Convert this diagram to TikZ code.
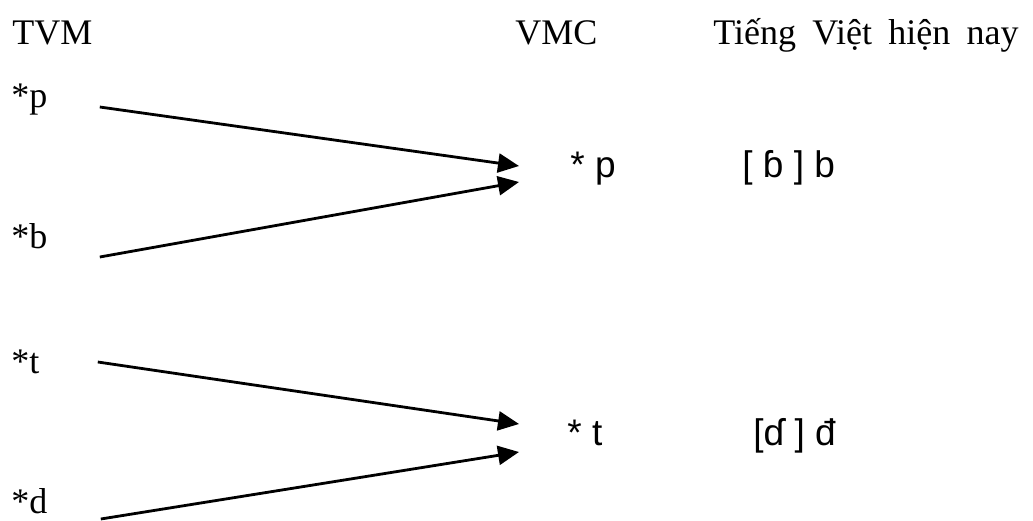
\documentclass[tikz,border=0pt]{standalone}
\usepackage{fontspec}
\setmainfont{Liberation Serif}
\newfontfamily\ipafont{Liberation Sans}
\tikzset{
  old/.style={anchor=base west, inner sep=0pt, font=\fontsize{18}{20}\selectfont},
  new/.style={anchor=base west, inner sep=0pt, font=\ipafont\fontsize{18.5}{21}\selectfont},
  arr/.style={line width=1.4pt, -{Triangle[length=10.5pt,width=9.5pt]}}
}
\usetikzlibrary{arrows.meta}
\begin{document}
\begin{tikzpicture}[x=0.5pt, y=-0.5pt]
  \useasboundingbox (0,0) rectangle (1033,520);
  \node[old] (hTVM) at (12,44) {TVM};
  \node[old] (hVMC) at (515,44) {VMC};
  \node[old] (hNow) at (713,44) {\spaceskip=0.45em Tiếng Việt hiện nay};
  \node[old] (pOld) at (11,107) {*p};
  \node[old] (bOld) at (11,248) {*b};
  \node[old] (tOld) at (11,373) {*t};
  \node[old] (dOld) at (11,513) {*d};
  \node[new] (pMid) at (570,177) {* p};
  \node[new] (tMid) at (567,445) {* t};
  \node[new] (bNow) at (742,177) {[ ɓ ] b};
  \node[new] (dNow) at (753,445) {[ɗ ] đ};
  \draw[arr] ([xshift=26pt]pOld.base east) -- ([xshift=-25.5pt,yshift=5.5pt]pMid.base west);
  \draw[arr] ([xshift=26pt,yshift=-4.5pt]bOld.base east) -- ([xshift=-25.5pt,yshift=-2.5pt]pMid.base west);
  \draw[arr] ([xshift=29pt,yshift=5.5pt]tOld.base east) -- ([xshift=-24pt,yshift=10.5pt]tMid.base west);
  \draw[arr] ([xshift=26.5pt,yshift=-3pt]dOld.base east) -- ([xshift=-24pt,yshift=-3.5pt]tMid.base west);
\end{tikzpicture}
\end{document}
